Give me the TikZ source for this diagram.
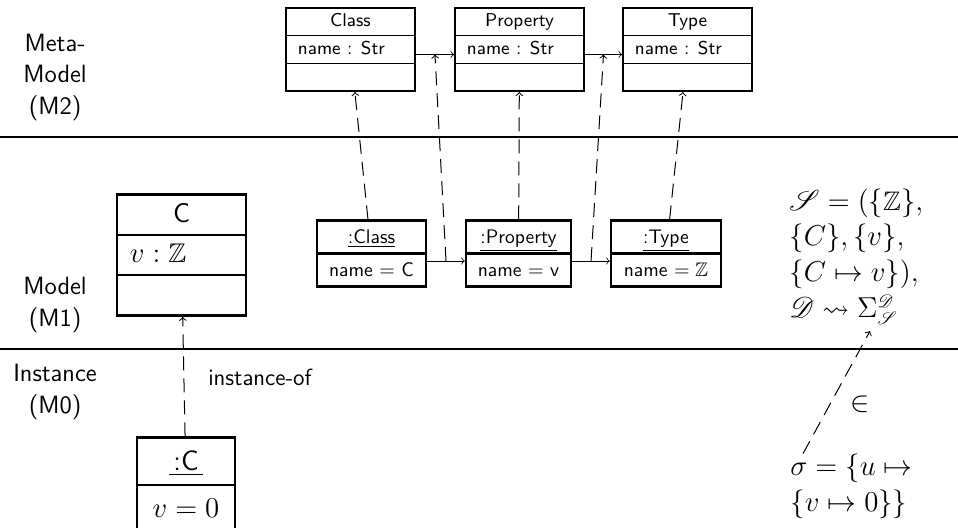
\documentclass[tikz,border=0pt]{standalone}
\usepackage{amssymb}
\usepackage{mathrsfs}
\usetikzlibrary{shapes.multipart}

\begin{document}
\begin{tikzpicture}[
  metabox/.style={rectangle split, rectangle split parts=3, draw, line width=0.8pt,
    rectangle split part align={center,left,center}, minimum width=64.5pt,
    inner xsep=6pt, inner ysep=0pt, font=\fontsize{9.3}{13.1}\sffamily},
  objbox/.style={rectangle split, rectangle split parts=2, draw, line width=1.2pt,
    inner xsep=5pt, inner ysep=0pt, font=\fontsize{9.8}{15.25}\sffamily},
  bigbox/.style={rectangle split, draw, line width=1.2pt, inner xsep=6.5pt, inner ysep=0pt},
  layer/.style={align=center, font=\fontsize{12.5}{15.75}\sffamily},
  formula/.style={anchor=north west, inner sep=0pt, text width=3cm, align=left},
  inst/.style={->, dash pattern=on 7pt off 4pt, line width=0.5pt},
  link/.style={->, line width=0.4pt}
]
\useasboundingbox (0,0) rectangle (16.835,9.261);

\coordinate (A) at (6.159,8.391);
\coordinate (B) at (9.129,8.391);
\coordinate (C) at (12.081,8.391);
\coordinate (D) at (6.528,4.806);
\coordinate (E) at (9.112,4.806);
\coordinate (F) at (11.704,4.806);
\coordinate (G) at (3.189,4.780);
\coordinate (H) at (3.269,0.738);
\coordinate (L) at (0,6.853);
\coordinate (R) at (16.835,6.853);
\coordinate (L2) at (0,3.128);
\coordinate (R2) at (16.835,3.128);

% layers
\draw[line width=0.6pt] (L) -- (R);
\draw[line width=0.6pt] (L2) -- (R2);
\node[layer] (M2) at (0.967,7.908) {Meta-\\Model\\(M2)};
\node[layer] (M1) at (0.967,3.901) {Model\\(M1)};
\node[layer] (M0) at (0.967,2.372) {Instance\\(M0)};

% meta-model
\node[metabox] (A1) at (A) {Class\strut \nodepart{second} name : Str\strut \nodepart{third}\strut};
\node[metabox] (B1) at (B) {Property\strut \nodepart{second} name : Str\strut \nodepart{third}\strut};
\node[metabox] (C1) at (C) {Type\strut \nodepart{second} name : Str\strut \nodepart{third}\strut};
\draw[link] ([yshift=-2.5pt]A1.east) -- ([yshift=-2.5pt]B1.west) coordinate[midway] (I);
\draw[link] ([yshift=-2.5pt]B1.east) -- ([yshift=-2.5pt]C1.west) coordinate[midway] (J);

% model
\node[objbox, minimum width=54.5pt] (D1) at (D) {\underline{:Class}\strut \nodepart{second} name $=$ C\strut};
\node[objbox, minimum width=52.5pt] (E1) at (E) {\underline{:Property}\strut \nodepart{second} name $=$ v\strut};
\node[objbox, minimum width=55pt] (F1) at (F) {\underline{:Type}\strut \nodepart{second} name $= \mathbb{Z}$\strut};
\draw[link] ([yshift=-3.75pt]D1.east) -- ([yshift=-3.75pt]E1.west) coordinate[midway] (K);
\draw[link] ([yshift=-3.75pt]E1.east) -- ([yshift=-3.75pt]F1.west) coordinate[midway] (N);
\draw[inst] (D1) -- (A1);
\draw[inst] (E1) -- (B1);
\draw[inst] (F1) -- (C1);
\draw[inst] (K) -- (I);
\draw[inst] (N) -- (J);

\node[bigbox, rectangle split parts=3, rectangle split part align={center,left,center},
  minimum width=64.5pt, font=\fontsize{13.5}{19}\sffamily] (G1) at (G)
  {C\strut \nodepart{second} $v : \mathbb{Z}$\strut \nodepart{third}\strut};

% instance
\node[bigbox, rectangle split parts=2, minimum width=49pt, font=\fontsize{14}{22.5}\sffamily] (H1) at (H)
  {\underline{\,:C\,}\strut \nodepart{second} $v = 0$\strut};
\draw[inst] (H1) -- (G1);
\node[font=\fontsize{11.7}{14}\sffamily] (T1) at (4.569,2.636) {instance-of};

% semantics
\node[formula, font=\fontsize{13.4}{15.9}\selectfont] (S1) at (13.865,5.955)
  {$\mathscr{S} = (\{\mathbb{Z}\},$\\[2pt] $\{C\}, \{v\},$\\[2pt] $\{C \mapsto v\}),$\\[2pt] $\mathscr{D} \leadsto \Sigma^{\mathscr{D}}_{\mathscr{S}}$};
\node[formula, font=\fontsize{13.9}{16.6}\selectfont] (U1) at (13.883,1.29)
  {$\sigma = \{u \mapsto$\\[1.5pt] $\{v \mapsto 0\}\}$};
\draw[inst] ([xshift=6.5pt]U1.north west) -- ([xshift=40.5pt,yshift=-3pt]S1.south west)
  node[pos=0.4, right=7pt, font=\fontsize{13.4}{16}\selectfont] (V1) {$\in$};

\end{tikzpicture}
\end{document}
